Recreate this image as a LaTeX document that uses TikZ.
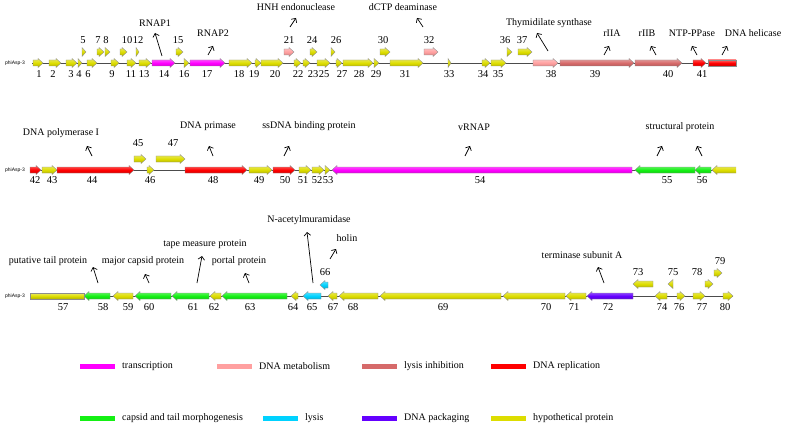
\documentclass[tikz,border=0pt]{standalone}
\usepackage{fontspec}
\setmainfont{Liberation Serif}
\newfontfamily\tagfont{Liberation Sans}
\usepackage{xcolor}
\usepackage{tikz}
\usetikzlibrary{arrows.meta}

\definecolor{hypo}{RGB}{221,221,0}
\definecolor{transc}{RGB}{255,0,255}
\definecolor{dnameta}{RGB}{255,160,160}
\definecolor{lysinh}{RGB}{214,106,106}
\definecolor{dnarepl}{RGB}{255,0,0}
\definecolor{capsid}{RGB}{20,240,20}
\definecolor{lysis}{RGB}{0,210,255}
\definecolor{dnapack}{RGB}{100,0,255}

% gene arrows: start, end, row y, colour
\newcommand{\fwdgene}[4]{%
  \pgfmathsetmacro{\headlen}{min(5,#2-#1)}%
  \draw[gene=#4] (#1,#3-3) -- ({#2-\headlen},#3-3) -- ({#2-\headlen},#3-4.5) -- (#2,#3)
    -- ({#2-\headlen},#3+4.5) -- ({#2-\headlen},#3+3) -- (#1,#3+3) -- cycle;}
\newcommand{\revgene}[4]{%
  \pgfmathsetmacro{\headlen}{min(5,#2-#1)}%
  \draw[gene=#4] (#2,#3-3) -- ({#1+\headlen},#3-3) -- ({#1+\headlen},#3-4.5) -- (#1,#3)
    -- ({#1+\headlen},#3+4.5) -- ({#1+\headlen},#3+3) -- (#2,#3+3) -- cycle;}
\newcommand{\bargene}[4]{\draw[gene=#4] (#1,#3-3) rectangle (#2,#3+3);}

\begin{document}
\begin{tikzpicture}[x=1pt,y=-1pt,
  gene/.style={draw=black!45,line width=0.35pt,top color=#1!60!white,bottom color=#1!80!black,middle color=#1},
  backbone/.style={draw=black!70,line width=0.6pt},
  pointer/.style={-{Straight Barb[length=3.2pt,width=6.5pt]},line width=0.7pt},
  num/.style={font=\fontsize{10.5}{12}\selectfont,inner sep=0pt},
  lab/.style={font=\fontsize{10}{12}\selectfont,inner sep=0pt},
  tag/.style={font=\tagfont\fontsize{5}{6}\selectfont,inner sep=0pt},
  key/.style={font=\fontsize{10}{12}\selectfont,inner sep=0pt,anchor=west}]
  \useasboundingbox (0,0) rectangle (787,425);

  % ---- row 1
  \node[tag] (tag1) at (15,63) {phiAsp-3};
  \draw[backbone] (32,63) -- (736,63);
  \foreach \s/\e/\c in {33/43/hypo,49/61/hypo,66/77/hypo,78/82/hypo,87/97/hypo,111/119/hypo,
      127/136/hypo,139/151/hypo,152/175/transc,184/189/hypo,190/225/transc,229/252/hypo,
      255/261/hypo,261/283/hypo,294/301/hypo,303/310/hypo,317/330/hypo,336/342/hypo,
      343/373/hypo,374/379/hypo,390/423/hypo,448/451/hypo,482/490/hypo,491/506/hypo,
      533/558/dnameta,560/634/lysinh,635/682/lysinh,693/706/dnarepl}
    \fwdgene{\s}{\e}{63}{\c};
  \bargene{708}{736}{63}{dnarepl}
  \foreach \s/\e/\c in {82/86/hypo,97/104/hypo,105/110/hypo,120/127/hypo,136/139/hypo,
      176/183/hypo,284/294/dnameta,310/317/hypo,331/335/hypo,380/390/hypo,424/438/dnameta,
      507/512/hypo,518/532/hypo}
    \fwdgene{\s}{\e}{52}{\c};
  \foreach \x/\n in {39/1,53/2,71/3,79/4,88/6,112/9,131/11,144/13,164/14,184/16,207/17,
      239/18,254/19,275/20,298/22,313/23,324/25,342/27,359/28,376/29,405/31,449/33,
      483/34,498/35,551/38,595/39,668/40,702/41}
    \node[num] (n\n) at (\x,74) {\n};
  \foreach \x/\n in {83/5,98/7,106/8,127/10,138/12,178/15,289/21,312/24,336/26,383/30,
      429/32,505/36,522/37}
    \node[num] (n\n) at (\x,40) {\n};

  \node[lab] (rnap1) at (155,23) {RNAP1};
  \draw[pointer] (162,56) -- (155,33);
  \node[lab] (rnap2) at (213,33) {RNAP2};
  \draw[pointer] (208,55) -- (213,46);
  \node[lab] (hnh) at (296,7) {HNH endonuclease};
  \draw[pointer] (290,27) -- (296,18);
  \node[lab] (dctp) at (403,7) {dCTP deaminase};
  \draw[pointer] (423,27) -- (417,18);
  \node[lab] (thys) at (549,23) {Thymidilate synthase};
  \draw[pointer] (548,51) -- (537,33);
  \node[lab] (riia) at (612,33) {rIIA};
  \draw[pointer] (604,55) -- (609,46);
  \node[lab] (riib) at (647,33) {rIIB};
  \draw[pointer] (656,55) -- (651,46);
  \node[lab] (ntp) at (692,33) {NTP-PPase};
  \draw[pointer] (697,55) -- (692,46);
  \node[lab] (heli) at (753,33) {DNA helicase};
  \draw[pointer] (722,55) -- (727,46);

  % ---- row 2
  \node[tag] (tag2) at (15,170) {phiAsp-3};
  \draw[backbone] (30,170) -- (736,170);
  \foreach \s/\e/\c in {30/41/dnarepl,42/57/hypo,57/134/dnarepl,147/154/hypo,185/247/dnarepl,
      249/272/hypo,273/295/dnarepl,299/311/hypo,312/324/hypo,325/330/hypo}
    \fwdgene{\s}{\e}{170}{\c};
  \foreach \s/\e/\c in {332/632/transc,635/695/capsid,695/711/capsid}
    \revgene{\s}{\e}{170}{\c};
  \draw[gene=hypo] (736,167) -- (717,167) -- (717,165.5) -- (712,170) -- (717,174.5)
    -- (717,173) -- (736,173);
  \foreach \s/\e in {134/146,156/185}
    \fwdgene{\s}{\e}{159}{hypo};
  \foreach \x/\n in {35/42,52/43,92/44,150/46,213/48,259/49,285/50,303/51,317/52,328/53,
      480/54,667/55,702/56}
    \node[num] (n\n) at (\x,180) {\n};
  \foreach \x/\n in {138/45,173/47}
    \node[num] (n\n) at (\x,143) {\n};

  \node[lab] (pol) at (61,133) {DNA polymerase I};
  \draw[pointer] (92,156) -- (87,146);
  \node[lab] (prim) at (208,126) {DNA primase};
  \draw[pointer] (213,156) -- (209,146);
  \node[lab] (ssb) at (309,126) {ssDNA binding protein};
  \draw[pointer] (284,156) -- (289,146);
  \node[lab] (vrnap) at (474,127) {vRNAP};
  \draw[pointer] (465,156) -- (470,146);
  \node[lab] (struc) at (680,127) {structural protein};
  \draw[pointer] (657,156) -- (662,146);
  \draw[pointer] (702,156) -- (697,146);

  % ---- row 3
  \node[tag] (tag3) at (15,296) {phiAsp-3};
  \draw[backbone] (30,296) -- (733,296);
  \bargene{30}{84}{296}{hypo}
  \foreach \s/\e/\c in {84/110/capsid,113/133/hypo,135/171/capsid,172/209/capsid,210/221/hypo,
      222/287/capsid,291/298/hypo,303/321/lysis,328/337/hypo,339/378/hypo,380/501/hypo,
      503/565/hypo,566/586/hypo,587/633/dnapack,655/667/hypo}
    \revgene{\s}{\e}{296}{\c};
  \foreach \s/\e in {677/685,693/705,723/733}
    \fwdgene{\s}{\e}{296}{hypo};
  \revgene{320}{328}{285}{lysis}
  \revgene{633}{653}{284}{hypo}
  \revgene{668}{673}{284}{hypo}
  \fwdgene{705}{713}{284}{hypo}
  \fwdgene{714}{722}{273}{hypo}
  \foreach \x/\n in {63/57,103/58,128/59,149/60,193/61,214/62,250/63,293/64,312/65,333/67,
      353/68,443/69,546/70,574/71,608/72,662/74,679/76,702/77,725/80}
    \node[num] (n\n) at (\x,307) {\n};
  \foreach \x/\n in {325/66,638/73,673/75,697/78}
    \node[num] (n\n) at (\x,272) {\n};
  \node[num] (n79) at (720,261) {79};

  \node[lab] (tail) at (48,261) {putative tail protein};
  \draw[pointer] (98,283) -- (93,267);
  \node[lab] (mcp) at (143,261) {major capsid protein};
  \draw[pointer] (149,283) -- (145,274);
  \node[lab] (tmp) at (205,244) {tape measure protein};
  \draw[pointer] (197,283) -- (202,256);
  \node[lab] (portal) at (239,261) {portal protein};
  \draw[pointer] (249,283) -- (245,273);
  \node[lab] (nam) at (309,220) {N-acetylmuramidase};
  \draw[pointer] (313,283) -- (307,232);
  \node[lab] (holin) at (347,238) {holin};
  \draw[pointer] (330,259) -- (336,249);
  \node[lab] (term) at (582,255) {terminase subunit A};
  \draw[pointer] (604,283) -- (598,267);

  % ---- legend
  \foreach \x/\y/\c/\t in {80/366/transc/transcription,217/366/dnameta/DNA metabolism,
      362/366/lysinh/lysis inhibition,491/366/dnarepl/DNA replication,
      80/418/capsid/capsid and tail morphogenesis,263/418/lysis/lysis,
      362/418/dnapack/DNA packaging,491/418/hypo/hypothetical protein}{
    \fill[\c] (\x,\y-2.5) rectangle (\x+35,\y+2.5);
    \node[key] (key\c) at (\x+42,\y) {\t};
  }
\end{tikzpicture}
\end{document}
